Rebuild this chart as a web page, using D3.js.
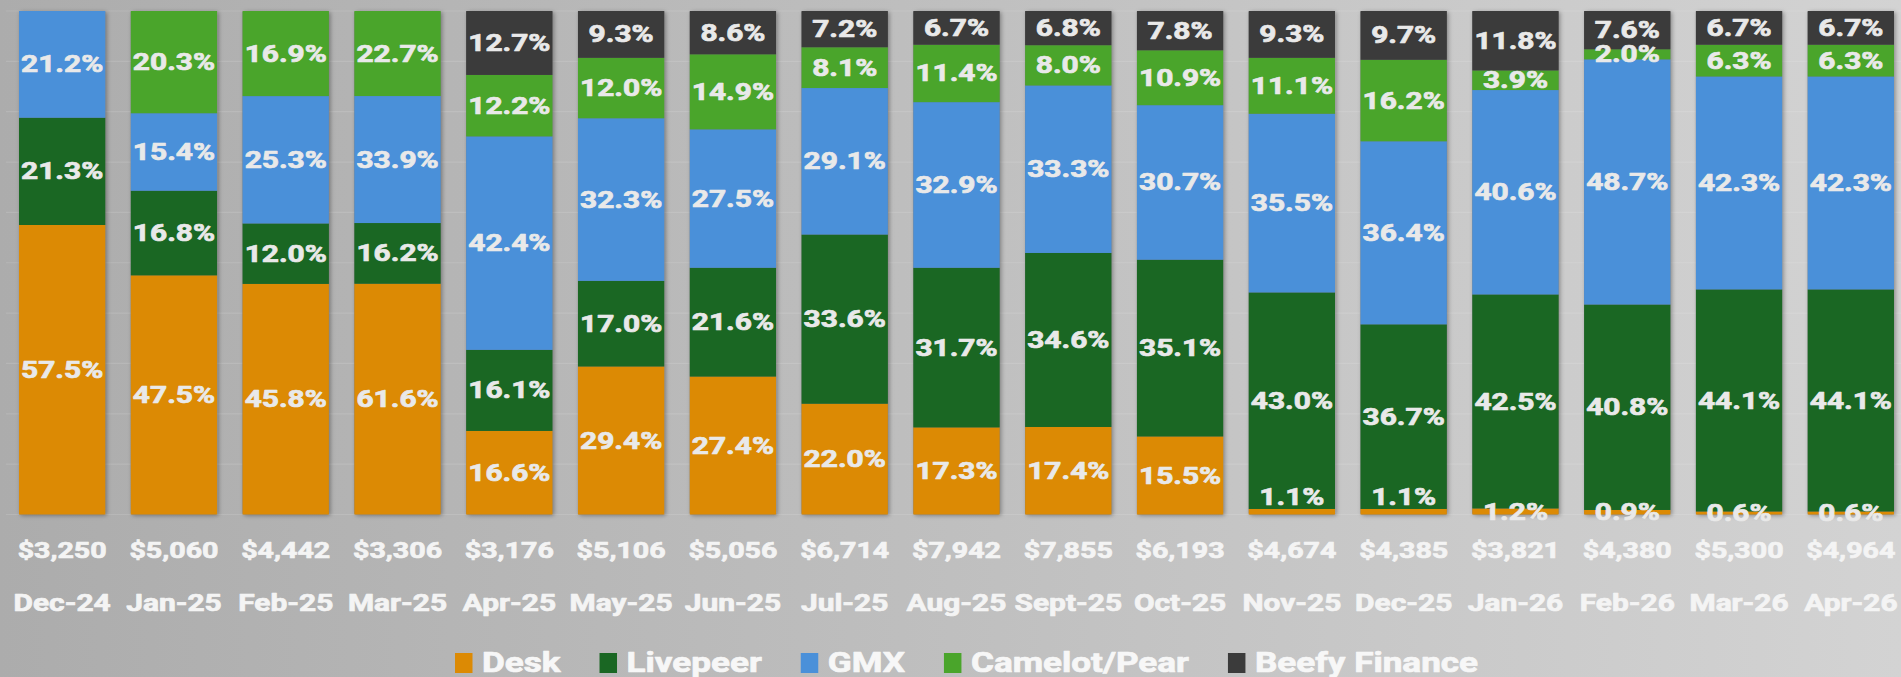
<!DOCTYPE html>
<html><head><meta charset="utf-8">
<script src="https://cdn.jsdelivr.net/npm/d3@7"></script>
<style>html,body{margin:0;padding:0;overflow:hidden;background:#bdbdbd}svg{display:block}</style>
</head><body><svg id="chart" width="1901" height="677"></svg>
<script>
const months = ["Dec-24","Jan-25","Feb-25","Mar-25","Apr-25","May-25","Jun-25","Jul-25","Aug-25","Sept-25","Oct-25","Nov-25","Dec-25","Jan-26","Feb-26","Mar-26","Apr-26"];
const totals = ["$3,250","$5,060","$4,442","$3,306","$3,176","$5,106","$5,056","$6,714","$7,942","$7,855","$6,193","$4,674","$4,385","$3,821","$4,380","$5,300","$4,964"];
const desk     = [57.5,47.5,45.8,61.6,16.6,29.4,27.4,22.0,17.3,17.4,15.5,1.1,1.1,1.2,0.9,0.6,0.6];
const livepeer = [21.3,16.8,12.0,16.2,16.1,17.0,21.6,33.6,31.7,34.6,35.1,43.0,36.7,42.5,40.8,44.1,44.1];
const gmx      = [21.2,15.4,25.3,33.9,42.4,32.3,27.5,29.1,32.9,33.3,30.7,35.5,36.4,40.6,48.7,42.3,42.3];
const camelot  = [0,20.3,16.9,22.7,12.2,12.0,14.9,8.1,11.4,8.0,10.9,11.1,16.2,3.9,2.0,6.3,6.3];
const beefy    = [0,0,0,0,12.7,9.3,8.6,7.2,6.7,6.8,7.8,9.3,9.7,11.8,7.6,6.7,6.7];
const seriesNames = ["Desk","Livepeer","GMX","Camelot/Pear","Beefy Finance"];
const seriesValues = [desk, livepeer, gmx, camelot, beefy];
const colors = ["#dc8a04","#1a6723","#4a90d9","#4aa52b","#3b3b3b"];
// labels of tiny bottom segments lifted above the segment in the source
const liftedDeskLabels = new Set(["Nov-25","Dec-25"]);

const W = 1901, H = 677;
const SX = 1.3; // horizontal stretch of the source lettering
const svg = d3.select("#chart");
const defs = svg.append("defs");
const grad = defs.append("linearGradient").attr("id","bg").attr("x1","0").attr("x2","1").attr("y1","0").attr("y2","0");
grad.append("stop").attr("offset","0").attr("stop-color","#acacac");
grad.append("stop").attr("offset","0.5").attr("stop-color","#bfbfbf");
grad.append("stop").attr("offset","1").attr("stop-color","#d3d3d3");
const f = defs.append("filter").attr("id","shadow").attr("x","-20%").attr("y","-5%").attr("width","140%").attr("height","110%");
f.append("feDropShadow").attr("dx",1.5).attr("dy",1).attr("stdDeviation",2.2).attr("flood-color","#000").attr("flood-opacity",0.35);

svg.append("rect").attr("width",W).attr("height",H).attr("fill","url(#bg)");

const rows = months.map((m,i)=>{
  const r = {month:m};
  seriesNames.forEach((s,k)=> r[s] = seriesValues[k][i]);
  return r;
});
const stack = d3.stack().keys(seriesNames).offset(d3.stackOffsetExpand);
const layers = stack(rows);

const x = d3.scaleBand().domain(months).range([19,1894]).paddingInner(0.228).paddingOuter(0);
const y = d3.scaleLinear().domain([0,1]).range([514.5,11]);

// gridlines
svg.append("g").selectAll("line").data(d3.range(0,1.01,0.1)).join("line")
  .attr("x1",6).attr("x2",W).attr("y1",d=>y(d)).attr("y2",d=>y(d))
  .attr("stroke","#ffffff").attr("stroke-opacity",0.12).attr("stroke-width",1.2);

// bar shadows
const shadowG = svg.append("g").attr("filter","url(#shadow)");
shadowG.selectAll("rect").data(months).join("rect")
  .attr("x",d=>x(d)).attr("width",x.bandwidth()).attr("y",y(1)).attr("height",y(0)-y(1))
  .attr("fill","#777").attr("rx",1.5);

const barsG = svg.append("g");
layers.forEach((layer,k)=>{
  barsG.append("g").attr("fill",colors[k]).selectAll("rect").data(layer).join("rect")
    .attr("x",d=>x(d.data.month)).attr("width",x.bandwidth())
    .attr("y",d=>y(d[1])).attr("height",d=>Math.max(0,y(d[0])-y(d[1])));
});

function stretched(sel, fx, fy){
  sel.attr("x",0).attr("y",0).attr("transform",(d,i)=>`translate(${fx(d,i)},${fy(d,i)}) scale(${SX},1)`);
}
function heavy(sel, col){
  sel.attr("fill",col).attr("stroke",col).attr("stroke-width",0.7).attr("stroke-linejoin","round");
}

const font = "Roboto, 'Open Sans', sans-serif";
const labelG = svg.append("g").attr("font-family",font).attr("font-weight",700).attr("font-size",23)
  .attr("text-anchor","middle").call(heavy,"#e9e9e9");
layers.forEach((layer,k)=>{
  const items = layer.filter(d=>d.data[seriesNames[k]]>0);
  labelG.append("g").selectAll("text").data(items).join("text")
    .attr("dy","0.35em")
    .text(d=>d.data[seriesNames[k]].toFixed(1)+"%")
    .call(stretched, d=>x(d.data.month)+x.bandwidth()/2,
      d=>{ let c=(y(d[0])+y(d[1]))/2; if(k===0 && liftedDeskLabels.has(d.data.month)) c-=15; return c; });
});

// totals
svg.append("g").attr("font-family",font).attr("font-weight",700).attr("font-size",22)
  .call(heavy,"#f4f4f4").attr("text-anchor","middle")
  .selectAll("text").data(months).join("text").text((d,i)=>totals[i])
  .call(stretched, d=>x(d)+x.bandwidth()/2, ()=>557.5);

// month axis
const xAxis = d3.axisBottom(x).tickSize(0).tickPadding(0);
const ax = svg.append("g").attr("transform","translate(0,610.5)").call(xAxis);
ax.select(".domain").remove();
ax.selectAll("text").attr("font-family",font).attr("font-weight",700).attr("font-size",23)
  .call(heavy,"#f4f4f4").attr("dy",0).attr("y",0)
  .attr("transform",`scale(${SX},1)`).attr("text-anchor","middle");

// legend
const lg = svg.append("g").attr("font-family",font).attr("font-weight",700).attr("font-size",27).call(heavy,"#f7f7f7");
let lx = 455;
seriesNames.forEach((s,k)=>{
  lg.append("rect").attr("x",lx).attr("y",653).attr("width",17.5).attr("height",20).attr("fill",colors[k]).attr("stroke","none");
  const t = lg.append("text").text(s).attr("x",0).attr("y",0)
    .attr("transform",`translate(${lx+27},671.5) scale(${SX},1)`);
  const w = t.node().getComputedTextLength()*SX;
  lx += 27 + w + 39;
});
</script></body></html>
